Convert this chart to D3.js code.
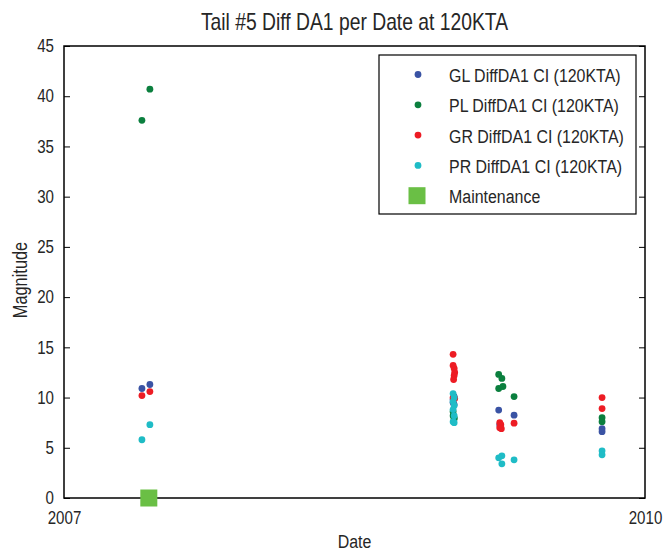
<!DOCTYPE html>
<html>
<head>
<meta charset="utf-8">
<script src="https://cdn.jsdelivr.net/npm/d3@7"></script>
<style>
  html, body { margin: 0; padding: 0; background: #fff; }
  svg { display: block; }
  text { font-family: "Liberation Sans", Arial, sans-serif; fill: #262626; }
</style>
</head>
<body>
<svg id="chart" width="666" height="552"></svg>
<script>
// Series measurements: [date, magnitude]
const glPoints = [
  ["2007-05-28", 10.9], ["2007-06-12", 11.3],
  ["2009-01-04", 9.8], ["2009-01-04", 9.5], ["2009-01-06", 10.1], ["2009-01-06", 9.3],
  ["2009-03-31", 8.75], ["2009-04-02", 7.3], ["2009-04-29", 8.25],
  ["2009-10-12", 6.9], ["2009-10-12", 6.6]
];
const plPoints = [
  ["2007-05-28", 37.6], ["2007-06-12", 40.7],
  ["2009-01-04", 8.6], ["2009-01-04", 8.2], ["2009-01-06", 8.0], ["2009-01-06", 7.9],
  ["2009-03-31", 12.3], ["2009-04-06", 11.9], ["2009-03-31", 10.9], ["2009-04-08", 11.1],
  ["2009-04-29", 10.1],
  ["2009-10-12", 8.0], ["2009-10-12", 7.6]
];
const grPoints = [
  ["2007-05-28", 10.2], ["2007-06-12", 10.6],
  ["2009-01-04", 14.3], ["2009-01-04", 13.2], ["2009-01-06", 12.9], ["2009-01-07", 12.5],
  ["2009-01-06", 12.2], ["2009-01-05", 11.8], ["2009-01-04", 10.0], ["2009-01-07", 9.9],
  ["2009-04-02", 7.5], ["2009-04-04", 7.3], ["2009-04-02", 7.0], ["2009-04-05", 6.9],
  ["2009-04-29", 7.45],
  ["2009-10-12", 10.0], ["2009-10-12", 8.9]
];
const prPoints = [
  ["2007-05-28", 5.8], ["2007-06-12", 7.3],
  ["2009-01-04", 10.4], ["2009-01-06", 10.0], ["2009-01-04", 9.6], ["2009-01-06", 9.2],
  ["2009-01-04", 8.8], ["2009-01-06", 8.2], ["2009-01-04", 7.6], ["2009-01-06", 7.5],
  ["2009-03-31", 4.0], ["2009-04-06", 4.2], ["2009-04-06", 3.4], ["2009-04-29", 3.8],
  ["2009-10-12", 4.7], ["2009-10-12", 4.3]
];
const maintenanceDates = ["2007-06-10"];

const seriesNames = [
  "GL DiffDA1 CI (120KTA)",
  "PL DiffDA1 CI (120KTA)",
  "GR DiffDA1 CI (120KTA)",
  "PR DiffDA1 CI (120KTA)"
];
const seriesColors = ["#3a53a4", "#0b7f3e", "#ed1c24", "#1fbcc6"];
const maintenanceName = "Maintenance";
const maintenanceColor = "#6abf45";

const yTicks = [0, 5, 10, 15, 20, 25, 30, 35, 40, 45];
const xTickLabels = ["2007", "2010"];

const titleText = "Tail #5 Diff DA1 per Date at 120KTA";
const xLabel = "Date";
const yLabel = "Magnitude";

const parse = d3.timeParse("%Y-%m-%d");
const svg = d3.select("#chart");

// Horizontal squeeze applied to all text for a narrow typeface look
const NARROW = 0.84;

const plotLeft = 64, plotRight = 645, plotTop = 46, plotBottom = 498;

const x = d3.scaleTime()
  .domain([parse("2007-01-01"), parse("2010-01-01")])
  .range([plotLeft, plotRight]);
const y = d3.scaleLinear().domain([0, 45]).range([plotBottom, plotTop]);

function label(parent, px, py, str, size, anchor = "start", rotate = 0) {
  return parent.append("text")
    .attr("transform", `translate(${px},${py}) rotate(${rotate}) scale(${NARROW},1)`)
    .attr("text-anchor", anchor)
    .attr("font-size", size)
    .text(str);
}

function squeezeAxisText(g) {
  g.selectAll("text").each(function () {
    const t = d3.select(this);
    const xv = +t.attr("x") || 0;
    t.attr("x", xv / NARROW).attr("transform", `scale(${NARROW},1)`);
  });
}

// Title and axis labels
label(svg, (plotLeft + plotRight) / 2, 30, titleText, 23, "middle");
label(svg, (plotLeft + plotRight) / 2, 548, xLabel, 19, "middle");
label(svg, 27, 280, yLabel, 19.5, "middle", -90);

// Y axis: labels on the left, inward ticks on both sides
const yAxisLeft = d3.axisLeft(y).tickValues(yTicks).tickSize(-6).tickPadding(10).tickFormat(d3.format("d"));
const gy = svg.append("g").attr("transform", `translate(${plotLeft},0)`).call(yAxisLeft);
gy.select(".domain").remove();
gy.selectAll("text").attr("font-size", 18).attr("fill", "#262626")
  .attr("font-family", "'Liberation Sans', Arial, sans-serif");
gy.selectAll("line").attr("stroke", "#000");
squeezeAxisText(gy);

const yAxisRight = d3.axisRight(y).tickValues(yTicks).tickSize(-6).tickFormat("");
const gyr = svg.append("g").attr("transform", `translate(${plotRight},0)`).call(yAxisRight);
gyr.select(".domain").remove();
gyr.selectAll("line").attr("stroke", "#000");

// X axis: ticks only at the two ends of the date range
const xAxis = d3.axisBottom(x)
  .tickValues(xTickLabels.map(s => parse(s + "-01-01")))
  .tickSize(0).tickPadding(13)
  .tickFormat(d3.timeFormat("%Y"));
const gx = svg.append("g").attr("transform", `translate(0,${plotBottom})`).call(xAxis);
gx.select(".domain").remove();
gx.selectAll("text").attr("font-size", 18).attr("fill", "#262626")
  .attr("font-family", "'Liberation Sans', Arial, sans-serif");
squeezeAxisText(gx);

// Plot frame
svg.append("rect")
  .attr("x", plotLeft).attr("y", plotTop)
  .attr("width", plotRight - plotLeft).attr("height", plotBottom - plotTop)
  .attr("fill", "none").attr("stroke", "#000").attr("stroke-width", 1.5);

// Data points
const allSeries = [glPoints, plPoints, grPoints, prPoints];
allSeries.forEach((pts, i) => {
  svg.append("g").selectAll("circle")
    .data(pts)
    .join("circle")
    .attr("cx", d => x(parse(d[0])))
    .attr("cy", d => y(d[1]))
    .attr("r", 3.4)
    .attr("fill", seriesColors[i]);
});

// Maintenance events
svg.append("g").selectAll("rect")
  .data(maintenanceDates)
  .join("rect")
  .attr("x", d => x(parse(d)) - 8.5)
  .attr("y", y(0) - 8.5)
  .attr("width", 17).attr("height", 17)
  .attr("fill", maintenanceColor);

// Legend
const legend = svg.append("g");
legend.append("rect")
  .attr("x", 379).attr("y", 55)
  .attr("width", 257).attr("height", 159)
  .attr("fill", "#fff").attr("stroke", "#000").attr("stroke-width", 1.2);

const rowY = i => 74.5 + i * 30.3;
seriesNames.forEach((name, i) => {
  legend.append("circle")
    .attr("cx", 418).attr("cy", rowY(i)).attr("r", 3.4)
    .attr("fill", seriesColors[i]);
  label(legend, 449, rowY(i) + 7.5, name, 19);
});
legend.append("rect")
  .attr("x", 408.5).attr("y", rowY(4) - 8.5)
  .attr("width", 17).attr("height", 17)
  .attr("fill", maintenanceColor);
label(legend, 449, rowY(4) + 7.5, maintenanceName, 19);
</script>
</body>
</html>
